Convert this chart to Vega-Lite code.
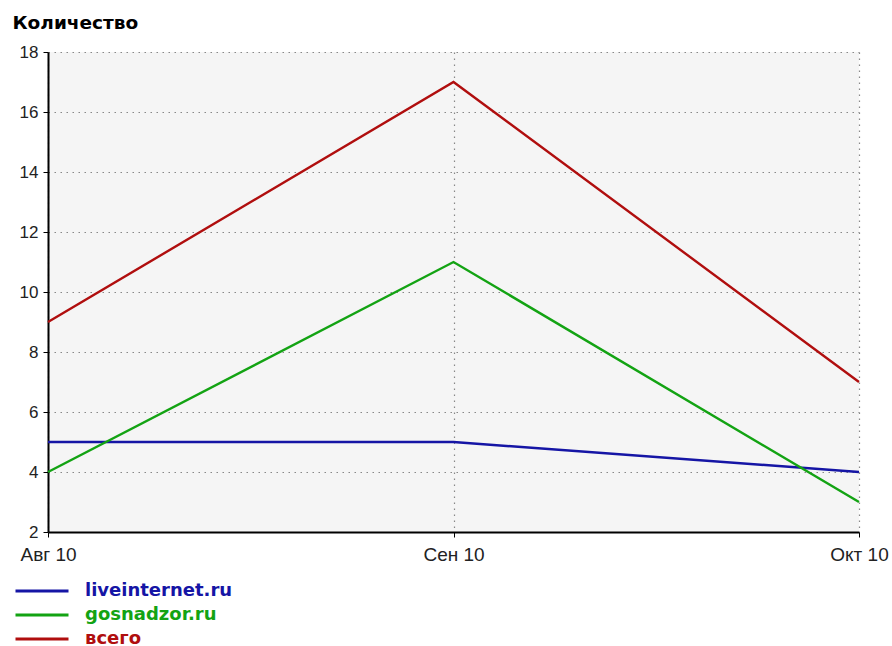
{
  "$schema": "https://vega.github.io/schema/vega-lite/v6.json",
  "width": 811,
  "height": 480,
  "autosize": {"type": "none"},
  "padding": {"left": 48, "top": 52, "right": 33, "bottom": 114},
  "background": "white",
  "config": {
    "view": {"fill": "#f5f5f5", "stroke": null},
    "font": "Liberation Sans"
  },
  "data": {
    "values": [
      {"month": "Авг 10", "series": "liveinternet.ru", "value": 5},
      {"month": "Сен 10", "series": "liveinternet.ru", "value": 5},
      {"month": "Окт 10", "series": "liveinternet.ru", "value": 4},
      {"month": "Авг 10", "series": "gosnadzor.ru", "value": 4},
      {"month": "Сен 10", "series": "gosnadzor.ru", "value": 11},
      {"month": "Окт 10", "series": "gosnadzor.ru", "value": 3},
      {"month": "Авг 10", "series": "всего", "value": 9},
      {"month": "Сен 10", "series": "всего", "value": 17},
      {"month": "Окт 10", "series": "всего", "value": 7}
    ]
  },
  "mark": {"type": "line", "strokeWidth": 2.4},
  "encoding": {
    "x": {
      "field": "month",
      "type": "ordinal",
      "sort": ["Авг 10", "Сен 10", "Окт 10"],
      "scale": {"type": "point", "padding": 0},
      "axis": {
        "title": null,
        "labelAngle": 0,
        "labelFont": "Liberation Sans",
        "labelFontSize": 19,
        "labelColor": "#222222",
        "labelPadding": 8,
        "domainColor": "#000000",
        "domainWidth": 2,
        "tickColor": "#000000",
        "tickSize": 5,
        "tickWidth": 1,
        "grid": true,
        "gridColor": "#888888",
        "gridDash": [1.5, 4.5],
        "gridWidth": 1.2
      }
    },
    "y": {
      "field": "value",
      "type": "quantitative",
      "scale": {"domain": [2, 18], "nice": false},
      "axis": {
        "values": [2, 4, 6, 8, 10, 12, 14, 16, 18],
        "title": "Количество",
        "titleAngle": 0,
        "titleX": -36,
        "titleY": -24,
        "titleAlign": "left",
        "titleBaseline": "alphabetic",
        "titleFont": "DejaVu Sans",
        "titleFontSize": 18.5,
        "titleFontWeight": "bold",
        "titleColor": "#000000",
        "labelFont": "Liberation Sans",
        "labelFontSize": 17,
        "labelColor": "#222222",
        "labelPadding": 5,
        "domainColor": "#000000",
        "domainWidth": 2,
        "tickColor": "#000000",
        "tickSize": 5,
        "tickWidth": 1,
        "grid": true,
        "gridColor": "#888888",
        "gridDash": [1.5, 4.5],
        "gridWidth": 1.2
      }
    },
    "color": {
      "field": "series",
      "type": "nominal",
      "sort": ["liveinternet.ru", "gosnadzor.ru", "всего"],
      "scale": {
        "domain": ["liveinternet.ru", "gosnadzor.ru", "всего"],
        "range": ["#1515a5", "#13a313", "#b00e0e"]
      },
      "legend": {
        "orient": "none",
        "legendX": -34,
        "legendY": 529,
        "title": null,
        "symbolType": "stroke",
        "symbolSize": 2809,
        "symbolStrokeWidth": 3,
        "labelFont": "DejaVu Sans",
        "labelFontSize": 18,
        "labelFontWeight": "bold",
        "labelOffset": 15,
        "clipHeight": 20,
        "rowPadding": 4,
        "encode": {
          "labels": {"update": {"fill": {"scale": "color", "field": "value"}}}
        }
      }
    }
  }
}
